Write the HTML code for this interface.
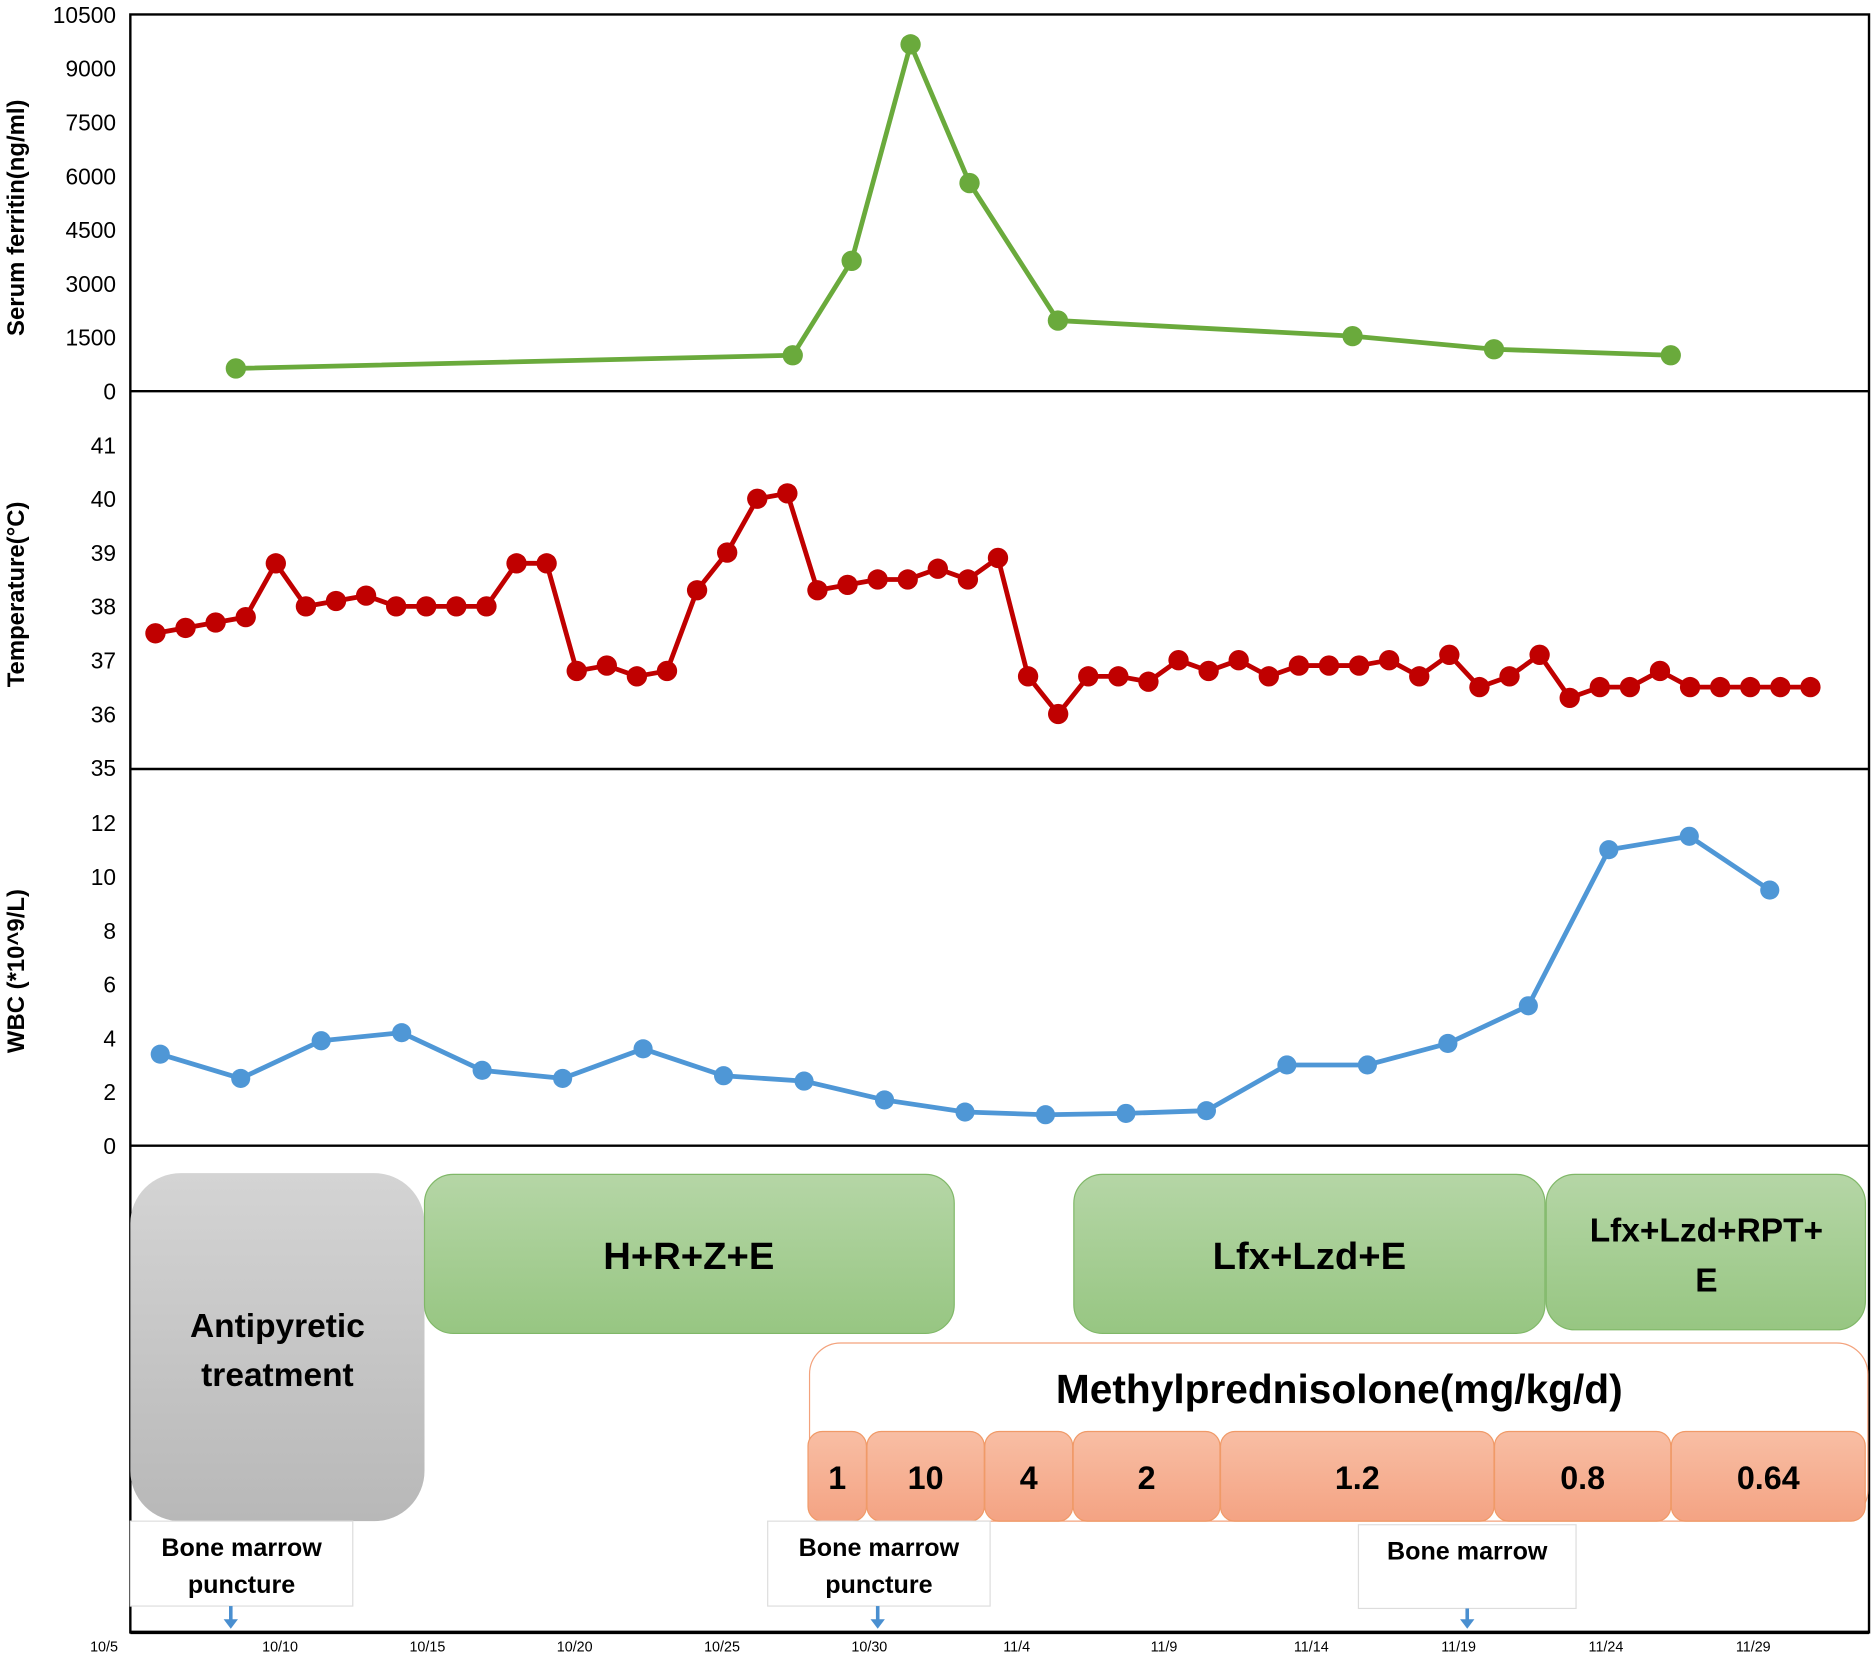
<!DOCTYPE html>
<html><head><meta charset="utf-8"><style>
html,body{margin:0;padding:0;background:#fff;}
svg{display:block;font-family:"Liberation Sans",sans-serif;}
</style></head><body>
<svg id="chart" width="1875" height="1654" viewBox="0 0 1568 1383" xmlns="http://www.w3.org/2000/svg">
<defs>
<linearGradient id="gGray" x1="0" y1="0" x2="0" y2="1"><stop offset="0" stop-color="#d4d4d4"/><stop offset="1" stop-color="#b8b8b8"/></linearGradient>
<linearGradient id="gGreen" x1="0" y1="0" x2="0" y2="1"><stop offset="0" stop-color="#b5d6a6"/><stop offset="1" stop-color="#97c682"/></linearGradient>
<linearGradient id="gOrange" x1="0" y1="0" x2="0" y2="1"><stop offset="0" stop-color="#f8bea4"/><stop offset="1" stop-color="#f4a383"/></linearGradient>
</defs>
<g id="frames">
<rect x="109" y="12" width="1454" height="1353" fill="none" stroke="#000" stroke-width="2"/>
<line x1="109" y1="327" x2="1563" y2="327" stroke="#000" stroke-width="2"/>
<line x1="109" y1="643" x2="1563" y2="643" stroke="#000" stroke-width="2"/>
<line x1="109" y1="958" x2="1563" y2="958" stroke="#000" stroke-width="2"/>
<line x1="109" y1="1365" x2="1563" y2="1365" stroke="#000" stroke-width="3"/>
</g>
<g id="axes"></g>
<g id="series"></g>

<g>
<rect x="109" y="981" width="246" height="291" rx="42" fill="url(#gGray)"/>
<text x="232" y="1118" font-size="28" font-weight="bold" text-anchor="middle">Antipyretic</text>
<text x="232" y="1159" font-size="28" font-weight="bold" text-anchor="middle">treatment</text>
<rect x="355" y="982" width="443" height="133" rx="24" fill="url(#gGreen)" stroke="#80b868" stroke-width="1"/>
<text x="576" y="1061" font-size="32" font-weight="bold" text-anchor="middle">H+R+Z+E</text>
<rect x="898" y="982" width="394" height="133" rx="24" fill="url(#gGreen)" stroke="#80b868" stroke-width="1"/>
<text x="1095" y="1061" font-size="32" font-weight="bold" text-anchor="middle">Lfx+Lzd+E</text>
<rect x="1293" y="982" width="267" height="130" rx="24" fill="url(#gGreen)" stroke="#80b868" stroke-width="1"/>
<text x="1427" y="1038" font-size="28" font-weight="bold" text-anchor="middle">Lfx+Lzd+RPT+</text>
<text x="1427" y="1080" font-size="28" font-weight="bold" text-anchor="middle">E</text>
<rect x="677" y="1123" width="885" height="149" rx="26" fill="#fff" stroke="#f3a27c" stroke-width="1"/>
<text x="1120" y="1173" font-size="34" font-weight="bold" text-anchor="middle">Methylprednisolone(mg/kg/d)</text>
<g id="doses"></g>
<g>
<rect x="109" y="1272" width="186" height="71" fill="#fff" stroke="#ddd"/>
<text x="202" y="1301" font-size="21" font-weight="bold" text-anchor="middle">Bone marrow</text>
<text x="202" y="1332" font-size="21" font-weight="bold" text-anchor="middle">puncture</text>
<rect x="642" y="1272" width="186" height="71" fill="#fff" stroke="#ddd"/>
<text x="735" y="1301" font-size="21" font-weight="bold" text-anchor="middle">Bone marrow</text>
<text x="735" y="1332" font-size="21" font-weight="bold" text-anchor="middle">puncture</text>
<rect x="1136" y="1275" width="182" height="70" fill="#fff" stroke="#ddd"/>
<text x="1227" y="1304" font-size="21" font-weight="bold" text-anchor="middle">Bone marrow</text>
<g fill="#4a8fd0" stroke="#4a8fd0">
<line x1="193" y1="1343" x2="193" y2="1356" stroke-width="3"/><polygon points="187,1354 199,1354 193,1362" stroke="none"/>
<line x1="734" y1="1343" x2="734" y2="1356" stroke-width="3"/><polygon points="728,1354 740,1354 734,1362" stroke="none"/>
<line x1="1227" y1="1345" x2="1227" y2="1356" stroke-width="3"/><polygon points="1221,1354 1233,1354 1227,1362" stroke="none"/>
</g>
</g>
</g>
<text transform="translate(20,182) rotate(-90)" font-size="20" font-weight="bold" text-anchor="middle">Serum ferritin(ng/ml)</text>
<text transform="translate(20,497) rotate(-90)" font-size="20" font-weight="bold" text-anchor="middle">Temperature(°C)</text>
<text transform="translate(20,812) rotate(-90)" font-size="20" font-weight="bold" text-anchor="middle">WBC (*10^9/L)</text>
</svg>
<script>
// data
const xTickLabels = ["10/5","10/10","10/15","10/20","10/25","10/30","11/4","11/9","11/14","11/19","11/24","11/29"];
const ferritinDays = [3.5,22.4,24.4,26.4,28.4,31.4,41.4,46.2,52.2];
const ferritinValues = [633,1000,3633,9667,5800,1967,1533,1167,1000];
const ferritinTicks = [0,1500,3000,4500,6000,7500,9000,10500];
const tempValues = [37.5,37.6,37.7,37.8,38.8,38.0,38.1,38.2,38.0,38.0,38.0,38.0,38.8,38.8,36.8,36.9,36.7,36.8,38.3,39.0,40.0,40.1,38.3,38.4,38.5,38.5,38.7,38.5,38.9,36.7,36.0,36.7,36.7,36.6,37.0,36.8,37.0,36.7,36.9,36.9,36.9,37.0,36.7,37.1,36.5,36.7,37.1,36.3,36.5,36.5,36.8,36.5,36.5,36.5,36.5,36.5];
const tempTicks = [35,36,37,38,39,40,41];
const wbcValues = [3.4,2.5,3.9,4.2,2.8,2.5,3.6,2.6,2.4,1.7,1.25,1.15,1.2,1.3,3.0,3.0,3.8,5.2,11.0,11.5,9.5];
const wbcTicks = [0,2,4,6,8,10,12];
const doseLabels = ["1","10","4","2","1.2","0.8","0.64"];
const doseStartDays = [23.0,25.0,29.0,32.0,37.0,46.3,52.3];
const doseEndDays = [24.9,28.9,31.9,36.9,46.2,52.2,58.8];

const NS="http://www.w3.org/2000/svg";
const dayX = d => 111 + 24.64*d;
const yFer = v => 327 - v/10500*315;
const yTemp = v => 642 - (v-35)*45;
const yWbc = v => 958 - v*22.5;
const tempX = i => 130 + i*(1384/55);
const wbcX = i => 134 + i*(1346/20);
function mk(tag, attrs, parent){const e=document.createElementNS(NS,tag);for(const k in attrs)e.setAttribute(k,attrs[k]);parent.appendChild(e);return e;}
const axes=document.getElementById('axes'), series=document.getElementById('series'), doses=document.getElementById('doses');

function yTicks(ticks, fy, name){
  ticks.forEach(t=>{const e=mk('text',{x:97,y:fy(t)+7,'font-size':19,'text-anchor':'end'},axes);e.textContent=t;
  
  });
}
yTicks(ferritinTicks,yFer,'ferritin');
yTicks(tempTicks,yTemp,'temperature');
yTicks(wbcTicks,yWbc,'wbc');
xTickLabels.forEach((l,i)=>{const x=i===0?87:dayX(i*5);const e=mk('text',{x:x,y:1381,'font-size':12,'text-anchor':'middle'},axes);e.textContent=l;

});

function line(pts,color,r,name){
  const p=mk('polyline',{points:pts.map(q=>q.join(',')).join(' '),fill:'none',stroke:color,'stroke-width':4,'stroke-linejoin':'round'},series);
  
  
  pts.forEach(q=>{const c=mk('circle',{cx:q[0],cy:q[1],r:r,fill:color},series);
  
  });
}
line(ferritinDays.map((d,i)=>[dayX(d),yFer(ferritinValues[i])]),'#6aaa3c',8.5,'ferritin');
line(tempValues.map((v,i)=>[tempX(i),yTemp(v)]),'#c00000',8.5,'temperature');
line(wbcValues.map((v,i)=>[wbcX(i),yWbc(v)]),'#4f97d6',8,'wbc');

doseLabels.forEach((l,i)=>{const x1=dayX(doseStartDays[i])-2,x2=Math.min(dayX(doseEndDays[i]),1560);
  const r=mk('rect',{x:x1,y:1197,width:x2-x1,height:75,rx:12,fill:'url(#gOrange)',stroke:'#f09a68','stroke-width':1},doses);
  
  
  const t=mk('text',{x:(x1+x2)/2,y:1245,'font-size':27,'font-weight':'bold','text-anchor':'middle'},doses);t.textContent=l;
  
  
});
</script>
</body></html>
